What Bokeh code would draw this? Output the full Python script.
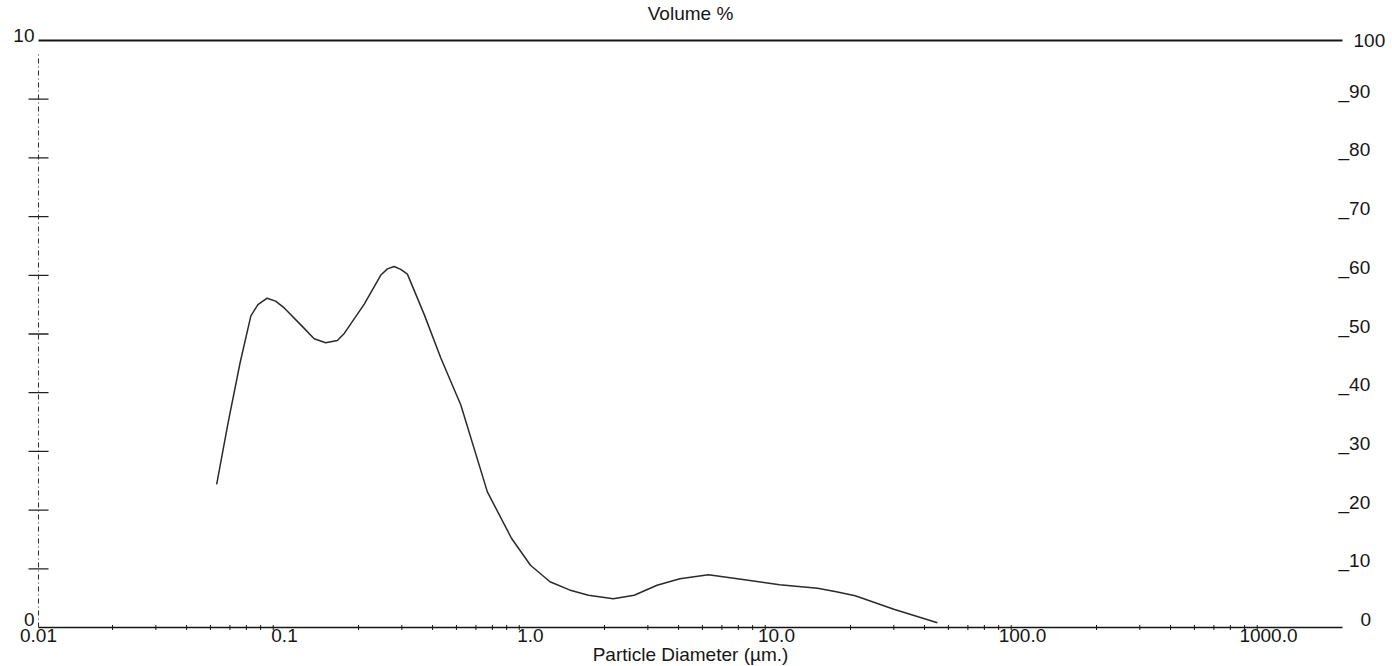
import math
from bokeh.plotting import figure
from bokeh.models import Range1d
from bokeh.core.properties import value
from bokeh.embed import file_html
from bokeh.resources import INLINE

# Particle size distribution: volume % per size class
diameter_um = [0.053, 0.059, 0.066, 0.073, 0.078, 0.085, 0.092, 0.100, 0.120,
               0.132, 0.147, 0.164, 0.175, 0.211, 0.246, 0.262, 0.279, 0.297,
               0.316, 0.370, 0.432, 0.521, 0.668, 0.837, 1.00, 1.20, 1.44,
               1.72, 2.17, 2.64, 3.27, 4.05, 5.29, 7.18, 10.3, 14.7, 17.5,
               20.9, 30.0, 45.1]
volume_pct = [2.44, 3.49, 4.51, 5.31, 5.50, 5.61, 5.56, 5.44, 5.10,
              4.92, 4.85, 4.89, 5.01, 5.51, 6.00, 6.11, 6.15, 6.10,
              6.02, 5.33, 4.59, 3.79, 2.31, 1.52, 1.06, 0.78, 0.64,
              0.55, 0.49, 0.55, 0.72, 0.83, 0.90, 0.82, 0.73, 0.67, 0.61,
              0.54, 0.31, 0.08]

# Axis extents, ticks and labels
x_min, x_max = 0.01, 2000.0
vol_min, vol_max = 0, 10
x_major = [0.01, 0.1, 1.0, 10.0, 100.0, 1000.0]
x_labels = ["0.01", "0.1", "1.0", "10.0", "100.0", "1000.0"]
x_minor = [m * d for d in x_major for m in range(2, 10) if m * d < x_max]
vol_ticks = [1, 2, 3, 4, 5, 6, 7, 8, 9]
vol_end_ticks = [10, 0]
vol_end_labels = ["10", "0"]
cum_ticks = [10, 20, 30, 40, 50, 60, 70, 80, 90]
cum_labels = ["_10", "_20", "_30", "_40", "_50", "_60", "_70", "_80", "_90"]

FONT = value("Liberation Sans")
INK = "#161616"
FS = "19px"

# Canvas layout: the plotting frame fills the whole page; axes are drawn
# inside it, 38 px from the left and 50 px from the right.
W, H = 1392, 666
left_px, right_px, top_px, bottom_px = 38, 1342, 40, 627
dec_px = (right_px - left_px) / math.log10(x_max / x_min)
xr = Range1d(x_min * 10 ** (-left_px / dec_px),
             x_min * 10 ** ((W - left_px) / dec_px))
unit_px = (bottom_px - top_px) / (vol_max - vol_min)
yr = Range1d(vol_min - (H - bottom_px) / unit_px, vol_max + top_px / unit_px)

p = figure(width=W, height=H, x_axis_type="log", x_range=xr, y_range=yr,
           x_axis_location=None, y_axis_location=None,
           output_backend="svg", toolbar_location=None,
           min_border=0)
p.extra_y_ranges = {"cum": Range1d(yr.start * 10, yr.end * 10)}
p.outline_line_color = None
p.grid.visible = False
p.background_fill_color = "white"
p.border_fill_color = "white"

# frame lines: top border and bottom axis
p.line([x_min, x_max], [vol_max, vol_max], line_color=INK, line_width=2)
p.line([x_min, x_max], [vol_min, vol_min], line_color=INK, line_width=1.6)

# bottom axis minor ticks
p.scatter(x_minor, [vol_min] * len(x_minor), marker="dash", angle=math.pi / 2,
          size=5, line_color=INK, line_width=1)

# left axis: dash-dot line with crossing ticks
p.line([x_min, x_min], [vol_min, vol_max - 0.2], line_color="#333333",
       line_width=1.1, line_dash="5 3 1 3")
p.scatter([x_min] * len(vol_ticks), vol_ticks, marker="dash", size=20,
          line_color="#222222", line_width=1.3)

# distribution curve
p.line(diameter_um, volume_pct, line_color="#2a2a2a", line_width=1.5,
       line_join="round")

# bottom tick labels
p.text(x_major, [vol_min] * len(x_major), text=x_labels, text_font=FONT,
       text_font_size=FS, text_color=INK, text_align="center",
       text_baseline="top", y_offset=1)

# axis titles
x_mid = math.sqrt(x_min * x_max)
p.text([x_mid], [vol_min], text=["Particle Diameter (\u00b5m.)"],
       text_font=FONT, text_font_size=FS, text_color=INK,
       text_align="center", text_baseline="top", y_offset=16)
p.text([x_mid], [vol_max], text=["Volume %"], text_font=FONT,
       text_font_size=FS, text_color=INK, text_align="center",
       text_baseline="middle", y_offset=-27)

# left scale end labels
p.text([x_min] * 2, vol_end_ticks, text=vol_end_labels, text_font=FONT,
       text_font_size=FS, text_color=INK, text_align="right",
       text_baseline="middle", x_offset=-4, y_offset=[-5, -8])

# right cumulative scale labels
p.text([x_max] * len(cum_ticks), cum_ticks, y_range_name="cum",
       text=cum_labels, text_font=FONT, text_font_size=FS, text_color=INK,
       text_align="left", text_baseline="middle", x_offset=-4, y_offset=-8)
p.text([x_max], [100], y_range_name="cum", text=["100"], text_font=FONT,
       text_font_size=FS, text_color=INK, text_align="left",
       text_baseline="middle", x_offset=11)
p.text([x_max], [0], y_range_name="cum", text=["0"], text_font=FONT,
       text_font_size=FS, text_color=INK, text_align="left",
       text_baseline="middle", x_offset=18, y_offset=-8)

open("out.html", "w").write(file_html(p, INLINE))
